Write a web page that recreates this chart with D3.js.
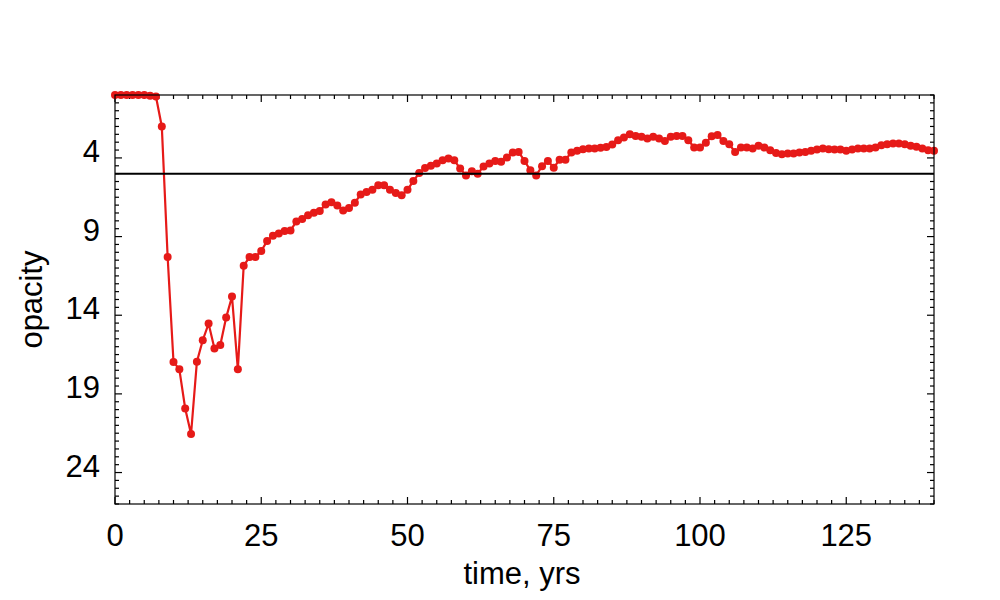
<!DOCTYPE html>
<html lang="en">
<head>
<meta charset="utf-8">
<title>opacity vs time</title>
<style>
  body { margin: 0; background: #fff; }
  svg text { font-family: "Liberation Sans", Arial, sans-serif; fill: #000; }
</style>
</head>
<body>
<div id="chart"></div>
<script src="https://d3js.org/d3.v7.min.js"></script>
<script>
// years, one point per year
var years = d3.range(0, 141);

// opacity, year 0..140
var opacity = [
  0, 0, 0, 0, 0, 0, 0.05, 0.1, 2.0, 10.3,
  16.97, 17.44, 19.93, 21.55, 16.95, 15.59, 14.53, 16.12, 15.89, 14.15,
  12.81, 17.44, 10.85, 10.3, 10.3, 9.92, 9.28, 8.94, 8.81, 8.65,
  8.62, 8.04, 7.88, 7.65, 7.49, 7.38, 6.96, 6.81, 7.02, 7.34,
  7.19, 6.85, 6.32, 6.17, 6.02, 5.74, 5.74, 6.02, 6.23, 6.38,
  6.02, 5.47, 4.96, 4.64, 4.49, 4.36, 4.15, 4.04, 4.15, 4.68,
  5.11, 4.85, 5.0, 4.54, 4.36, 4.19, 4.25, 3.98, 3.66, 3.62,
  4.19, 4.79, 5.11, 4.53, 4.19, 4.62, 4.11, 4.11, 3.66, 3.55,
  3.45, 3.4, 3.4, 3.36, 3.3, 3.15, 2.87, 2.7, 2.49, 2.6,
  2.66, 2.77, 2.66, 2.77, 2.92, 2.66, 2.61, 2.6, 2.87, 3.34,
  3.34, 3.04, 2.62, 2.55, 2.92, 3.13, 3.62, 3.34, 3.34, 3.4,
  3.23, 3.34, 3.51, 3.68, 3.77, 3.72, 3.72, 3.66, 3.62, 3.55,
  3.47, 3.4, 3.45, 3.47, 3.47, 3.55, 3.47, 3.4, 3.4, 3.4,
  3.34, 3.19, 3.13, 3.08, 3.08, 3.13, 3.23, 3.29, 3.4, 3.51,
  3.55
];

// reference level (black line)
var threshold = 5;

var xTicks = [0, 25, 50, 75, 100, 125];
var yTicks = [4, 9, 14, 19, 24];
var xMinor = d3.range(0, 140.01, 2.5);
var yMinor = d3.range(0, 26.01, 0.5);

var width = 1000,
    height = 600,
    plotLeft = 115, plotRight = 934,
    plotTop = 95, plotBottom = 504,
    fontSize = 31,
    red = "#e61a18";

var svg = d3.select("#chart").append("svg")
    .attr("width", width)
    .attr("height", height);

var x = d3.scaleLinear().domain([0, 140]).range([plotLeft, plotRight]);
// opacity grows downwards
var y = d3.scaleLinear().domain([0, 26]).range([plotTop, plotBottom]);

// ticks on all four sides
var ticks = svg.append("g").attr("stroke", "#000").attr("stroke-width", 1.2);
xMinor.forEach(function(t) {
  var len = xTicks.indexOf(t) >= 0 ? 7 : 4;
  ticks.append("line").attr("x1", x(t)).attr("x2", x(t)).attr("y1", plotBottom).attr("y2", plotBottom - len);
  ticks.append("line").attr("x1", x(t)).attr("x2", x(t)).attr("y1", plotTop).attr("y2", plotTop + len);
});
yMinor.forEach(function(v) {
  var len = yTicks.indexOf(v) >= 0 ? 7 : 4;
  ticks.append("line").attr("y1", y(v)).attr("y2", y(v)).attr("x1", plotLeft).attr("x2", plotLeft + len);
  ticks.append("line").attr("y1", y(v)).attr("y2", y(v)).attr("x1", plotRight).attr("x2", plotRight - len);
});

// tick labels
svg.append("g").selectAll("text")
    .data(xTicks).enter().append("text")
    .attr("x", function(d) { return x(d); })
    .attr("y", plotBottom + 42)
    .attr("text-anchor", "middle")
    .attr("font-size", fontSize)
    .text(function(d) { return d; });

svg.append("g").selectAll("text")
    .data(yTicks).enter().append("text")
    .attr("x", 100)
    .attr("y", function(d) { return y(d) + 4; })
    .attr("text-anchor", "end")
    .attr("font-size", fontSize)
    .text(function(d) { return d; });

// axis titles
svg.append("text")
    .attr("x", 522).attr("y", 584)
    .attr("text-anchor", "middle")
    .attr("font-size", fontSize)
    .text("time, yrs");

svg.append("text")
    .attr("transform", "translate(42," + ((plotTop + plotBottom) / 2) + ") rotate(-90)")
    .attr("text-anchor", "middle")
    .attr("font-size", fontSize)
    .text("opacity");

// series
var line = d3.line()
    .x(function(d, i) { return x(years[i]); })
    .y(function(d) { return y(d); });

svg.append("path")
    .datum(opacity)
    .attr("d", line)
    .attr("fill", "none")
    .attr("stroke", red)
    .attr("stroke-width", 2.2);

svg.append("g").selectAll("circle")
    .data(opacity).enter().append("circle")
    .attr("cx", function(d, i) { return x(years[i]); })
    .attr("cy", function(d) { return y(d); })
    .attr("r", 4)
    .attr("fill", red);

// threshold line
svg.append("line")
    .attr("x1", plotLeft).attr("x2", plotRight)
    .attr("y1", y(threshold)).attr("y2", y(threshold))
    .attr("stroke", "#000")
    .attr("stroke-width", 2);

// border
svg.append("rect")
    .attr("x", plotLeft).attr("y", plotTop)
    .attr("width", plotRight - plotLeft).attr("height", plotBottom - plotTop)
    .attr("fill", "none")
    .attr("stroke", "#000")
    .attr("stroke-width", 1.2);
</script>
</body>
</html>
